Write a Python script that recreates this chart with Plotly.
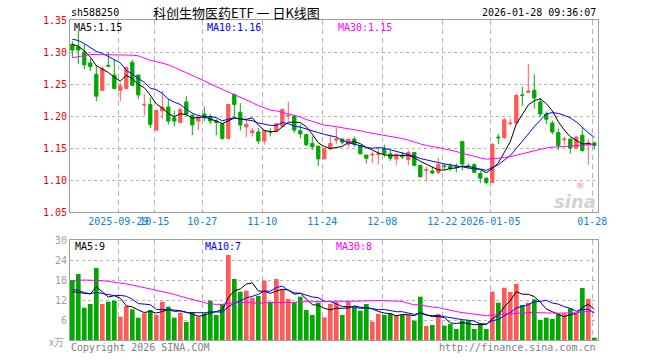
import numpy as np
import pandas as pd
import plotly.graph_objects as go

# ---------------- data ----------------
opens = [1.312, 1.308, 1.300, 1.283, 1.265, 1.240, 1.279, 1.264, 1.240, 1.243,
         1.284, 1.264, 1.217, 1.218, 1.178, 1.208, 1.214, 1.197, 1.190, 1.222,
         1.201, 1.192, 1.203, 1.199, 1.192, 1.188, 1.165, 1.234, 1.206, 1.183,
         1.174, 1.175, 1.161, 1.176, 1.176, 1.184, 1.200, 1.200, 1.177, 1.171,
         1.157, 1.153, 1.133, 1.149, 1.162, 1.164, 1.156, 1.164, 1.154, 1.139,
         1.139, 1.140, 1.149, 1.141, 1.133, 1.139, 1.132, 1.143, 1.123, 1.115,
         1.114, 1.112, 1.122, 1.122, 1.121, 1.160, 1.122, 1.124, 1.110, 1.103,
         1.096, 1.167, 1.166, 1.188, 1.189, 1.233, 1.237, 1.240, 1.222, 1.203,
         1.189, 1.174, 1.163, 1.164, 1.150, 1.170, 1.156, 1.158]
highs = [1.317, 1.333, 1.312, 1.290, 1.279, 1.278, 1.300, 1.289, 1.252, 1.277,
         1.288, 1.264, 1.235, 1.229, 1.210, 1.239, 1.226, 1.208, 1.213, 1.231,
         1.204, 1.199, 1.215, 1.203, 1.195, 1.189, 1.218, 1.234, 1.220, 1.195,
         1.181, 1.181, 1.177, 1.181, 1.189, 1.212, 1.222, 1.201, 1.187, 1.172,
         1.168, 1.153, 1.150, 1.170, 1.181, 1.165, 1.164, 1.168, 1.154, 1.139,
         1.145, 1.150, 1.155, 1.146, 1.142, 1.144, 1.146, 1.143, 1.123, 1.121,
         1.121, 1.135, 1.125, 1.126, 1.126, 1.160, 1.126, 1.126, 1.114, 1.103,
         1.157, 1.172, 1.197, 1.196, 1.235, 1.246, 1.281, 1.265, 1.228, 1.207,
         1.193, 1.180, 1.168, 1.164, 1.169, 1.181, 1.164, 1.160]
lows = [1.291, 1.281, 1.273, 1.270, 1.223, 1.239, 1.277, 1.242, 1.223, 1.242,
        1.247, 1.226, 1.201, 1.181, 1.178, 1.196, 1.187, 1.184, 1.189, 1.200,
        1.170, 1.178, 1.192, 1.187, 1.170, 1.163, 1.163, 1.197, 1.177, 1.167,
        1.168, 1.156, 1.155, 1.168, 1.175, 1.183, 1.192, 1.174, 1.165, 1.153,
        1.147, 1.122, 1.132, 1.146, 1.156, 1.155, 1.151, 1.152, 1.140, 1.126,
        1.126, 1.124, 1.136, 1.130, 1.124, 1.133, 1.123, 1.121, 1.104, 1.098,
        1.109, 1.109, 1.116, 1.114, 1.112, 1.115, 1.117, 1.111, 1.095, 1.093,
        1.095, 1.156, 1.165, 1.185, 1.187, 1.216, 1.237, 1.212, 1.199, 1.187,
        1.171, 1.147, 1.155, 1.141, 1.148, 1.144, 1.124, 1.148]
closes = [1.303, 1.303, 1.280, 1.277, 1.231, 1.274, 1.278, 1.243, 1.247, 1.276,
          1.248, 1.233, 1.218, 1.187, 1.209, 1.214, 1.192, 1.192, 1.210, 1.203,
          1.186, 1.197, 1.197, 1.192, 1.190, 1.165, 1.218, 1.218, 1.186, 1.187,
          1.177, 1.161, 1.177, 1.175, 1.188, 1.210, 1.201, 1.178, 1.172, 1.155,
          1.152, 1.133, 1.149, 1.157, 1.164, 1.159, 1.164, 1.156, 1.141, 1.134,
          1.140, 1.141, 1.141, 1.134, 1.139, 1.136, 1.143, 1.123, 1.105, 1.116,
          1.111, 1.124, 1.121, 1.118, 1.120, 1.125, 1.121, 1.112, 1.103, 1.096,
          1.156, 1.166, 1.194, 1.189, 1.232, 1.232, 1.239, 1.228, 1.203, 1.195,
          1.175, 1.154, 1.164, 1.150, 1.167, 1.146, 1.158, 1.154]
volumes = [18.0, 19.8, 9.7, 10.8, 21.6, 10.8, 11.5, 11.8, 7.0, 10.2,
           9.2, 6.7, 8.0, 9.0, 7.5, 11.5, 10.0, 6.7, 8.2, 5.4,
           8.4, 7.0, 8.0, 11.8, 7.5, 10.8, 25.5, 18.3, 14.5, 14.8,
           12.7, 13.2, 17.8, 11.5, 18.3, 15.2, 12.3, 11.3, 13.0, 9.0,
           7.5, 11.2, 6.8, 10.8, 11.4, 7.5, 11.5, 10.0, 8.8, 10.8,
           5.5, 7.8, 7.5, 8.0, 7.5, 7.5, 7.5, 5.8, 13.0, 4.2,
           4.5, 7.8, 4.3, 4.8, 3.3, 5.8, 5.8, 3.3, 5.0, 3.3,
           14.5, 11.2, 15.7, 14.4, 16.8, 10.5, 11.2, 12.2, 6.0, 6.7,
           6.3, 7.8, 8.0, 9.5, 8.0, 15.6, 12.3, 0.7]

# moving-average values at the start of the window (history before the chart)
ma5_head = [1.312, 1.309, 1.302, 1.292]
ma10_head = [1.320, 1.318, 1.313, 1.307, 1.301, 1.298, 1.293, 1.288, 1.283]
ma30_head = [1.291, 1.293, 1.295, 1.296, 1.296, 1.296, 1.296, 1.295, 1.295, 1.295,
             1.295, 1.294, 1.290, 1.287, 1.285, 1.283, 1.280, 1.276, 1.272, 1.268,
             1.264, 1.260, 1.255, 1.250, 1.246, 1.241, 1.237, 1.233, 1.229]
vma5_head = [14.5, 14.2, 13.9, 13.8]
vma10_head = [15.2, 14.9, 14.2, 13.9, 14.3, 14.0, 13.6, 13.3, 13.4]
vma30_head = [17.5, 17.9, 18.0, 18.0, 18.0, 17.8, 17.6, 17.4, 17.1, 16.8,
              16.5, 16.1, 15.7, 15.4, 15.1, 14.6, 14.2, 13.7, 13.1, 12.6,
              12.1, 11.6, 11.1, 10.8, 10.7, 10.7, 11.0, 11.1, 11.1]

tick_index = [8, 14, 22, 32, 42, 52, 62, 70, 87]
tick_labels = ["2025-09-29", "10-15", "10-27", "11-10", "11-24", "12-08",
               "12-22", "2026-01-05", "01-28"]
price_ticks = [1.05, 1.10, 1.15, 1.20, 1.25, 1.30, 1.35]
price_tick_labels = ["1.05", "1.10", "1.15", "1.20", "1.25", "1.30", "1.35"]
vol_ticks = [6, 12, 18, 24, 30]
vol_tick_labels = ["6", "12", "18", "24", "30"]

code_text = "sh588250"
title_text = "科创生物医药ETF 一 日K线图"
time_text = "2026-01-28 09:36:07"
price_ma_labels = ["MA5:1.15", "MA10:1.16", "MA30:1.15"]
vol_ma_labels = ["MA5:9", "MA10:7", "MA30:8"]
unit_text = "x万"
copyright_text = "Copyright 2026 SINA.COM"
url_text = "http://finance.sina.com.cn"

# ---------------- derived ----------------
n = len(closes)
idx = np.arange(n)


def ma(values, w, head):
    s = pd.Series(values, dtype=float).rolling(w).mean().to_numpy()
    s[:len(head)] = head
    return s


ma5 = ma(closes, 5, ma5_head)
ma10 = ma(closes, 10, ma10_head)
ma30 = ma(closes, 30, ma30_head)
vma5 = ma(volumes, 5, vma5_head)
vma10 = ma(volumes, 10, vma10_head)
vma30 = ma(volumes, 30, vma30_head)

UP = "#ff5a5a"
DOWN = "#00a800"
vol_colors = [UP if c > o else DOWN for o, c in zip(opens, closes)]

MONO = "DejaVu Sans Mono"
GRID = "#b4b4b4"
FRAME = "#a0a0a0"

fig = go.Figure()
fig.add_trace(go.Candlestick(
    x=idx, open=opens, high=highs, low=lows, close=closes,
    increasing=dict(line=dict(color=UP, width=1), fillcolor=UP),
    decreasing=dict(line=dict(color=DOWN, width=1), fillcolor=DOWN),
    xaxis="x", yaxis="y", showlegend=False, hoverinfo="skip"))
for vals, col in [(ma5, "#000000"), (ma10, "#0000ff"), (ma30, "#ff00ff")]:
    fig.add_trace(go.Scatter(x=idx, y=vals, mode="lines", line=dict(color=col, width=1),
                             xaxis="x", yaxis="y", showlegend=False, hoverinfo="skip"))

fig.add_trace(go.Bar(x=idx, y=volumes, marker=dict(color=vol_colors, line=dict(width=0)),
                     width=0.78, xaxis="x2", yaxis="y2", showlegend=False, hoverinfo="skip"))
for vals, col in [(vma5, "#000000"), (vma10, "#0000ff"), (vma30, "#ff00ff")]:
    fig.add_trace(go.Scatter(x=idx, y=vals, mode="lines", line=dict(color=col, width=1),
                             xaxis="x2", yaxis="y2", showlegend=False, hoverinfo="skip"))

x_range = [-0.383, n - 0.383]
grid_pos = [k - 0.33 for k in tick_index]

common_x = dict(range=x_range, showline=True, mirror=True, linecolor=FRAME, linewidth=1,
                showgrid=True, gridcolor=GRID, griddash="5px,4px", gridwidth=1,
                zeroline=False, tickvals=grid_pos, ticks="", fixedrange=True)

fig.update_layout(
    width=660, height=360,
    margin=dict(l=70, r=62, t=20, b=20),
    paper_bgcolor="white", plot_bgcolor="white",
    font=dict(family=MONO, size=10),
    boxgap=0.22,
    xaxis=dict(**common_x, domain=[0, 1], anchor="y", ticktext=tick_labels,
               tickfont=dict(family=MONO, size=10, color="#0a84d4"), tickangle=0,
               rangeslider=dict(visible=False)),
    yaxis=dict(domain=[0.4, 1], range=[1.05, 1.35], tickvals=price_ticks,
               ticktext=price_tick_labels, tickfont=dict(family=MONO, size=10, color="#ee0000"),
               showgrid=True, gridcolor=GRID, griddash="dot", zeroline=False,
               showline=True, mirror=True, linecolor=FRAME, linewidth=1, ticks="",
               fixedrange=True),
    xaxis2=dict(**common_x, domain=[0, 1], anchor="y2", showticklabels=False,
                ticktext=tick_labels),
    yaxis2=dict(domain=[0, 0.3125], range=[0, 30], tickvals=vol_ticks,
                ticktext=vol_tick_labels, tickfont=dict(family=MONO, size=10, color="#a0a0a0"),
                showgrid=True, gridcolor=GRID, griddash="dot", zeroline=False,
                showline=True, mirror=True, linecolor=FRAME, linewidth=1, ticks="",
                fixedrange=True),
)


def px_to_paper(px, py):
    return (px - 70) / 528.0, (340 - py) / 320.0


ann = []


def add_text(text, px, py, color, size=10, family=MONO, xanchor="left", **kw):
    x, y = px_to_paper(px, py)
    ann.append(dict(text=text, x=x, y=y, xref="paper", yref="paper", showarrow=False,
                    xanchor=xanchor, yanchor="middle",
                    font=dict(family=family, size=size, color=color), **kw))


add_text(code_text, 69, 12.5, "#000000")
add_text(title_text, 151, 12, "#000000", size=13, family="Noto Sans CJK SC")
add_text(time_text, 598, 12.5, "#000000", xanchor="right")

for lbl, px, col in zip(price_ma_labels, [72, 205, 336], ["#000000", "#0000ff", "#ff00ff"]):
    add_text(lbl, px, 27.5, col)
for lbl, px, col in zip(vol_ma_labels, [73, 203, 334], ["#000000", "#0000ff", "#ff00ff"]):
    add_text(lbl, px, 246, col)

add_text(unit_text, 66, 341, "#a0a0a0", xanchor="right", family="Noto Sans CJK SC")
add_text(copyright_text, 69, 347, "#808080")
add_text(url_text, 598, 347, "#808080", xanchor="right")
add_text("<b><i>sina</i></b>", 598, 201, "#d2d2d2", size=18, family="DejaVu Sans",
         xanchor="right")
add_text("◉", 580, 184, "#f2c4c4", size=10, family="DejaVu Sans", xanchor="center")

fig.update_layout(annotations=ann)

fig.write_html(
    "out.html",
    config=dict(displayModeBar=False, staticPlot=True),
    post_script="document.body.style.margin='0';document.body.style.padding='0';"
                "document.body.style.overflow='hidden';",
)
